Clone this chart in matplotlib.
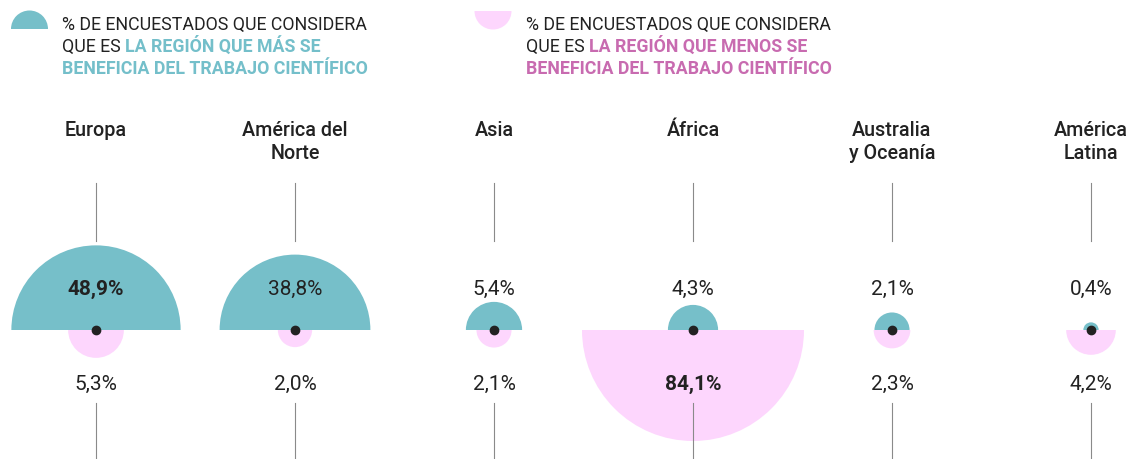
import matplotlib
matplotlib.use("Agg")
import numpy as np
import matplotlib.pyplot as plt
from matplotlib.patches import Wedge

# datos
regiones = ["Europa", "América del\nNorte", "Asia", "África", "Australia\ny Oceanía", "América\nLatina"]
mas_beneficia = [48.9, 38.8, 5.4, 4.3, 2.1, 0.4]
menos_beneficia = [5.3, 2.0, 2.1, 84.1, 2.3, 4.2]

TEAL = "#76bfc9"
ROSA = "#fdd6fd"
TEAL_TXT = "#74bfca"
ROSA_TXT = "#c86bb0"
OSCURO = "#222222"
GRIS = "#8a8a8a"

plt.rcParams['font.family'] = ['Roboto', 'DejaVu Sans']

W, H = 1131, 459
fig = plt.figure(figsize=(W / 100, H / 100), dpi=100)
ax = fig.add_axes([0, 0, 1, 1])
ax.set_xlim(0, W)
ax.set_ylim(H, 0)
ax.axis('off')

# radio proporcional al area
k = 111 / np.sqrt(max(max(mas_beneficia), max(menos_beneficia)))
cy = 330
xs = 96 + 199 * np.arange(len(regiones))

def fmt(v):
    return f"{v:.1f}%".replace(".", ",")

for i, (reg, vm, vn) in enumerate(zip(regiones, mas_beneficia, menos_beneficia)):
    x = xs[i]
    # semicirculo superior (mas se beneficia) y el inferior (menos)
    ax.add_patch(Wedge((x, cy), k * np.sqrt(vm), 180, 360, facecolor=TEAL, edgecolor='none', zorder=2))
    ax.add_patch(Wedge((x, cy), k * np.sqrt(vn), 0, 180, facecolor=ROSA, edgecolor='none', zorder=1))
    ax.plot([x, x], [183, 241], color=GRIS, lw=0.8, zorder=3)
    ax.plot([x, x], [403, 459], color=GRIS, lw=0.8, zorder=3)
    ax.plot(x, cy, 'o', ms=6, color=OSCURO, zorder=4)

    bold_m = 'bold' if vm == max(mas_beneficia) else 'normal'
    bold_n = 'bold' if vn == max(menos_beneficia) else 'normal'
    ax.text(x, 295, fmt(vm), ha='center', va='baseline', fontsize=15,
            color=OSCURO, fontweight=bold_m, zorder=5)
    ax.text(x, 390, fmt(vn), ha='center', va='baseline', fontsize=15,
            color=OSCURO, fontweight=bold_n, zorder=5)

    for j, linea in enumerate(reg.split("\n")):
        ax.text(x, 136 + 23 * j, linea, ha='center', va='baseline', fontsize=14.2,
                color=OSCURO, fontweight='medium')

# leyenda
ax.add_patch(Wedge((29.5, 29), 18.5, 180, 360, facecolor=TEAL, edgecolor='none'))
ax.add_patch(Wedge((493, 11), 18.5, 0, 180, facecolor=ROSA, edgecolor='none'))

renderer = fig.canvas.get_renderer()

def leyenda(x0, destacado, color):
    fs = 12.8
    ax.text(x0, 30, "% DE ENCUESTADOS QUE CONSIDERA", ha='left', va='baseline',
            fontsize=fs, color=OSCURO)
    t = ax.text(x0, 52, "QUE ES ", ha='left', va='baseline', fontsize=fs, color=OSCURO)
    bb = t.get_window_extent(renderer)
    x1 = ax.transData.inverted().transform((bb.x1, bb.y0))[0]
    ax.text(x1, 52, destacado, ha='left', va='baseline', fontsize=fs,
            color=color, fontweight='bold')
    ax.text(x0, 74, "BENEFICIA DEL TRABAJO CIENTÍFICO", ha='left', va='baseline',
            fontsize=fs, color=color, fontweight='bold')

leyenda(62, "LA REGIÓN QUE MÁS SE", TEAL_TXT)
leyenda(526, "LA REGIÓN QUE MENOS SE", ROSA_TXT)

fig.savefig("out.png", dpi=100)
